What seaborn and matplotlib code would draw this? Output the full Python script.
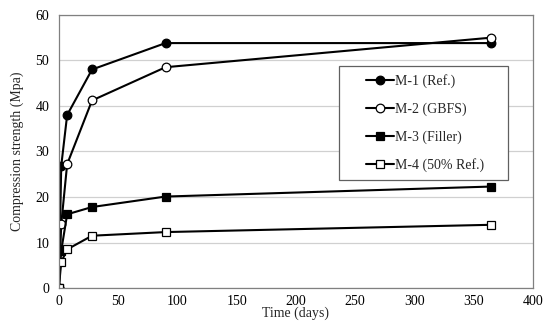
import matplotlib
matplotlib.use("Agg")
import matplotlib.pyplot as plt
from matplotlib.patches import Rectangle
import seaborn as sns
import pandas as pd

days = [0, 2, 7, 28, 90, 365]
m1 = [0, 26.8, 38.0, 48.0, 53.8, 53.8]
m2 = [0, 14.0, 27.2, 41.2, 48.5, 55.0]
m3 = [0, 8.2, 16.2, 17.8, 20.1, 22.3]
m4 = [0, 5.7, 8.5, 11.5, 12.3, 13.9]
labels = ["M-1 (Ref.)", "M-2 (GBFS)", "M-3 (Filler)", "M-4 (50% Ref.)"]
series = [m1, m2, m3, m4]

sns.set_theme(style="white")
plt.rcParams['font.family'] = ['Liberation Serif', 'DejaVu Serif']

fig = plt.figure(figsize=(5.5, 3.3), dpi=100)
ax = fig.add_axes([0.107, 0.127, 0.862, 0.828])

markers = ["o", "o", "s", "s"]
faces = ["black", "white", "black", "white"]
for vals, lab, mk, fc in zip(series, labels, markers, faces):
    df = pd.DataFrame({"days": days, "val": vals})
    sns.lineplot(data=df, x="days", y="val", ax=ax, color="black", linewidth=1.5,
                 marker=mk, markersize=6.2, markerfacecolor=fc, markeredgecolor="black",
                 markeredgewidth=0.9, label=lab)

ax.set_xlim(0, 400)
ax.set_ylim(0, 60)
ax.set_xticks(range(0, 401, 50))
ax.set_yticks(range(0, 61, 10))
ax.yaxis.grid(True, color="#d0d0d0", linewidth=0.9)
ax.xaxis.grid(False)
for s in ax.spines.values():
    s.set_color("#808080")
    s.set_linewidth(0.9)
ax.tick_params(axis="both", labelsize=10, colors="black", length=3, width=0.8)
ax.tick_params(axis="x", direction="out", color="#808080", pad=2)
ax.tick_params(axis="y", length=0, pad=7)
ax.set_xlabel("Time (days)", fontsize=10, labelpad=-1)
ax.set_ylabel("Compression strength (Mpa)", fontsize=10, labelpad=8)

# legend frame
ax.add_patch(Rectangle((0.591, 0.396), 0.356, 0.417, transform=ax.transAxes,
                       facecolor="white", edgecolor="#606060", linewidth=0.9, zorder=4))
leg = ax.legend(loc="upper left", bbox_to_anchor=(0.648, 0.785), frameon=False,
                fontsize=10, handlelength=2.0, handletextpad=0.05,
                labelspacing=1.05, borderpad=0, borderaxespad=0)
leg.set_zorder(5)

fig.savefig("out.png", dpi=100)
